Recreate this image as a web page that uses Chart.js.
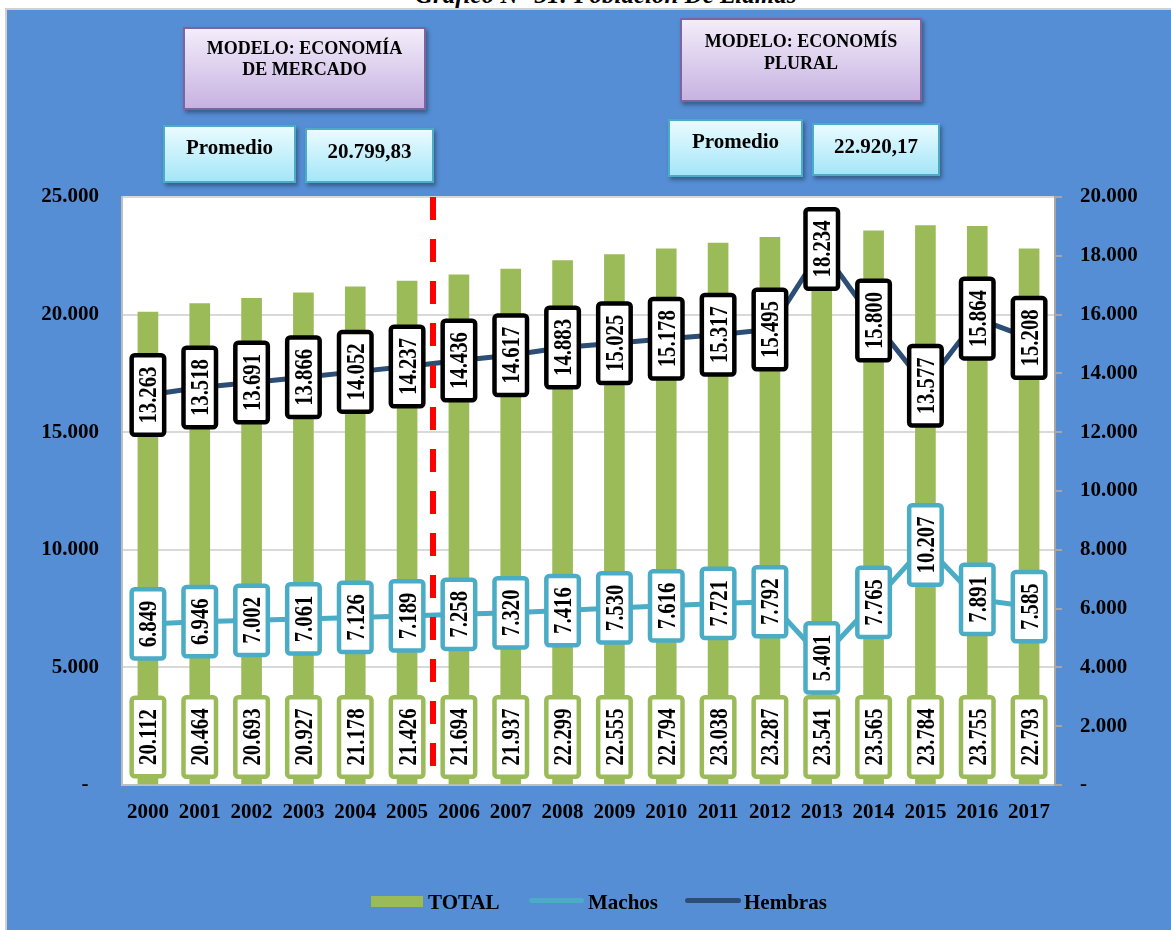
<!DOCTYPE html>
<html>
<head>
<meta charset="utf-8">
<script src="https://cdn.jsdelivr.net/npm/chart.js@4.4.1/dist/chart.umd.min.js"></script>
<style>
  body { margin: 0; background: #fff; font-family: "Liberation Serif", "Times New Roman", serif; }
  #wrap { position: relative; width: 1171px; height: 930px; overflow: hidden; }
  #frame { position: absolute; left: 5px; top: 8px; right: 0; bottom: 0; background: #558ED5; border-left: 2px solid #D0D0D0; border-top: 2px solid #D0D0D0; }
  #title { position: absolute; left: 415px; top: -18px; font-size: 25px; font-weight: bold; font-style: italic; line-height: 25px; white-space: nowrap; }
  canvas { position: absolute; left: 0; top: 0; }
  .box { position: absolute; box-sizing: border-box; font-weight: bold; text-align: center; color: #000; box-shadow: 2px 3px 4px rgba(0,0,0,0.35); }
  .modelo { border: 2px solid #7E649E; background: linear-gradient(#F3EDFA, #C7B2E1); font-size: 18px; line-height: 21px; }
  .prom { border: 2px solid #4BACC6; background: linear-gradient(#EAFBFF, #A5E6F8); font-size: 21px; line-height: 24px; }
  .leg { position: absolute; font-weight: bold; font-size: 21px; line-height: 24px; top: 890px; }
  .legline { position: absolute; height: 5px; border-radius: 3px; top: 898px; }
</style>
</head>
<body>
<div id="wrap">
  <div id="frame"></div>
  <div id="title">Gráfico N° 31: Población De Llamas</div>
  <canvas id="llamasChart" width="1171" height="930"></canvas>

  <div class="box modelo" style="left:183px;top:27px;width:243px;height:83px;padding-top:9px;">MODELO: ECONOMÍA<br>DE MERCADO</div>
  <div class="box prom" style="left:163px;top:125px;width:133px;height:58px;padding-top:8px;">Promedio</div>
  <div class="box prom" style="left:305px;top:128px;width:129px;height:55px;padding-top:9px;">20.799,83</div>

  <div class="box modelo" style="left:680px;top:18px;width:242px;height:84px;padding-top:10px;line-height:22px;">MODELO: ECONOMÍS<br>PLURAL</div>
  <div class="box prom" style="left:668px;top:119px;width:135px;height:58px;padding-top:8px;">Promedio</div>
  <div class="box prom" style="left:812px;top:123px;width:128px;height:53px;padding-top:9px;">22.920,17</div>

  <div style="position:absolute;left:371px;top:896px;width:52px;height:11px;background:#9BBB59;"></div>
  <div class="leg" style="left:428px;">TOTAL</div>
  <div class="legline" style="left:529px;width:55px;background:#4BACC6;"></div>
  <div class="leg" style="left:588px;">Machos</div>
  <div class="legline" style="left:685px;width:56px;background:#2C4D75;"></div>
  <div class="leg" style="left:744px;">Hembras</div>
</div>

<script>
// datos de la poblacion de llamas
const years = ['2000', '2001', '2002', '2003', '2004', '2005', '2006', '2007', '2008',
               '2009', '2010', '2011', '2012', '2013', '2014', '2015', '2016', '2017'];
const totalValues = [20112, 20464, 20693, 20927, 21178, 21426, 21694, 21937, 22299,
                     22555, 22794, 23038, 23287, 23541, 23565, 23784, 23755, 22793];
const machosValues = [6849, 6946, 7002, 7061, 7126, 7189, 7258, 7320, 7416,
                      7530, 7616, 7721, 7792, 5401, 7765, 10207, 7891, 7585];
const hembrasValues = [13263, 13518, 13691, 13866, 14052, 14237, 14436, 14617, 14883,
                       15025, 15178, 15317, 15495, 18234, 15800, 13577, 15864, 15208];

// el corte entre los dos modelos va entre 2005 y 2006
const splitAfter = '2005';

const FONT = '"Liberation Serif", "Times New Roman", serif';
const GREEN = '#9BBB59';
const CYAN = '#4BACC6';
const NAVY = '#2C4D75';

// separador de miles con punto
function fmt(v) {
    return String(v).replace(/\B(?=(\d{3})+(?!\d))/g, '.');
}

// fondo blanco del area de trazado
const plotBackground = {
    id: 'plotBackground',
    beforeDraw(chart) {
        const { ctx, chartArea: a } = chart;
        ctx.save();
        ctx.fillStyle = '#fff';
        ctx.fillRect(a.left, a.top, a.right - a.left, a.bottom - a.top);
        ctx.restore();
    }
};

// etiqueta vertical con recuadro
function drawLabel(ctx, cx, cy, text, borderColor) {
    const size = 25, squeeze = 0.83;
    ctx.save();
    ctx.translate(cx, cy);
    ctx.rotate(-Math.PI / 2);
    ctx.font = 'bold ' + size + 'px ' + FONT;
    const len = ctx.measureText(text).width * squeeze;
    const w = len + 22.5, h = 32.5;
    ctx.beginPath();
    ctx.roundRect(-w / 2, -h / 2, w, h, 3);
    ctx.fillStyle = '#fff';
    ctx.fill();
    ctx.lineWidth = 4.5;
    ctx.strokeStyle = borderColor;
    ctx.stroke();
    ctx.scale(squeeze, 1);
    ctx.fillStyle = '#000';
    ctx.textAlign = 'center';
    ctx.textBaseline = 'alphabetic';
    ctx.fillText(text, 0, size * 0.338);
    ctx.restore();
}

const labelsPlugin = {
    id: 'labelsPlugin',
    afterDatasetsDraw(chart) {
        const { ctx, chartArea: a, scales } = chart;

        // linea roja discontinua
        const i = years.indexOf(splitAfter);
        const xs = (scales.x.getPixelForValue(i) + scales.x.getPixelForValue(i + 1)) / 2;
        ctx.save();
        ctx.strokeStyle = '#FF0000';
        ctx.lineWidth = 6;
        ctx.setLineDash([23, 19]);
        ctx.beginPath();
        ctx.moveTo(xs, a.top);
        ctx.lineTo(xs, a.bottom - 12);
        ctx.stroke();
        ctx.restore();

        const byLabel = {};
        chart.data.datasets.forEach((ds, k) => { byLabel[ds.label] = chart.getDatasetMeta(k); });

        byLabel['TOTAL'].data.forEach((el, j) => {
            drawLabel(ctx, el.x, a.bottom - 48, fmt(totalValues[j]), GREEN);
        });
        byLabel['Machos'].data.forEach((el, j) => {
            drawLabel(ctx, el.x, el.y, fmt(machosValues[j]), CYAN);
        });
        byLabel['Hembras'].data.forEach((el, j) => {
            drawLabel(ctx, el.x, el.y, fmt(hembrasValues[j]), '#000');
        });
    }
};

const tickFont = { family: FONT, size: 21, weight: 'bold' };

new Chart(document.getElementById('llamasChart'), {
    type: 'bar',
    data: {
        labels: years,
        datasets: [
            {
                type: 'line', label: 'Hembras', data: hembrasValues, yAxisID: 'y2',
                borderColor: NAVY, borderWidth: 5, pointRadius: 0, tension: 0, order: 1
            },
            {
                type: 'line', label: 'Machos', data: machosValues, yAxisID: 'y',
                borderColor: CYAN, borderWidth: 5, pointRadius: 0, tension: 0, order: 1
            },
            {
                type: 'bar', label: 'TOTAL', data: totalValues, yAxisID: 'y',
                backgroundColor: GREEN, barThickness: 20, order: 2
            }
        ]
    },
    options: {
        responsive: false,
        animation: false,
        layout: { padding: { top: 197, left: 0, right: 0, bottom: 105 } },
        plugins: { legend: { display: false }, tooltip: { enabled: false } },
        scales: {
            x: {
                grid: { display: false },
                border: { color: '#BFBFBF', width: 2 },
                ticks: { font: tickFont, color: '#000', padding: 7, maxRotation: 0 },
                afterFit: s => { s.height = 40; }
            },
            y: {
                position: 'left', min: 0, max: 25000,
                ticks: {
                    stepSize: 5000, font: tickFont, color: '#000', padding: 23,
                    callback: v => v === 0 ? '-  ' : fmt(v)
                },
                grid: { color: '#D9D9D9', lineWidth: 2, drawTicks: false },
                border: { color: '#BFBFBF', width: 2 },
                afterFit: s => { s.width = 122; }
            },
            y2: {
                position: 'right', min: 0, max: 20000,
                ticks: {
                    stepSize: 2000, font: tickFont, color: '#000', padding: 18,
                    callback: v => v === 0 ? '-' : fmt(v)
                },
                grid: { drawOnChartArea: false, color: '#A6A6A6', tickLength: 7, lineWidth: 2 },
                border: { color: '#A6A6A6', width: 2 },
                afterFit: s => { s.width = 116; }
            }
        }
    },
    plugins: [plotBackground, labelsPlugin]
});
</script>
</body>
</html>
